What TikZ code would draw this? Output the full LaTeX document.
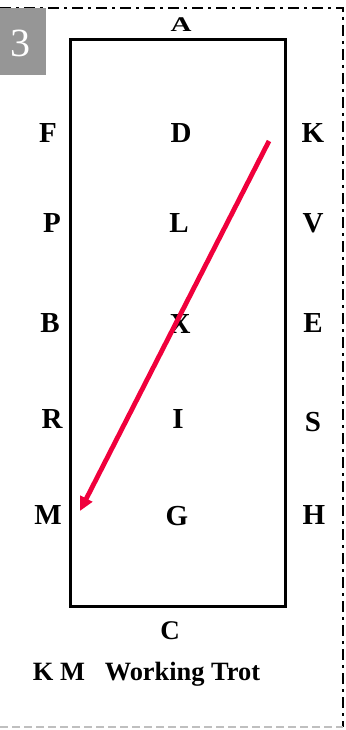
\documentclass[tikz,border=0pt]{standalone}
\usepackage{fontspec}
\setmainfont{Liberation Serif}
\usetikzlibrary{arrows.meta}
\definecolor{arrowred}{RGB}{240,0,60}
\definecolor{badgegray}{RGB}{150,150,150}
\tikzset{
  mark letter/.style={font=\bfseries\fontsize{29}{29}\selectfont, inner sep=0pt, anchor=base},
  arena/.style={draw=black, line width=3pt},
  frameline/.style={draw=black, line width=2.2pt, dash pattern=on 11pt off 5pt on 3pt off 5pt},
  movearrow/.style={draw=arrowred, line width=4.8pt, -{Triangle[length=14pt,width=13pt]}},
}
\begin{document}
\begin{tikzpicture}[x=1pt,y=-1pt]
\useasboundingbox (0,0) rectangle (345,730);
% frame
\draw[frameline] (0,8) -- (343,8) -- (343,727);
\draw[draw=black!25, line width=1.8pt, dash pattern=on 8pt off 4pt] (0,727) -- (343,727);
% badge
\fill[badgegray] (0,8) rectangle (46,75);
\node[text=white, font=\fontsize{40}{40}\selectfont, inner sep=0pt, anchor=base] (num) at (20,57) {3};
% arena
\draw[arena] (70,40) rectangle (285,606);
% letters
\node[mark letter] (A) at (181,31.7) {\scalebox{1}[0.72]{A}};
\node[mark letter] (F) at (48,143) {F};
\node[mark letter] (D) at (181,142.7) {D};
\node[mark letter] (K) at (313,143) {K};
\node[mark letter] (P) at (52,232) {P};
\node[mark letter] (L) at (179,232) {L};
\node[mark letter] (V) at (313,232) {V};
\node[mark letter] (B) at (50,332) {B};
\node[mark letter] (X) at (180,333) {X};
\node[mark letter] (E) at (313,332) {E};
\node[mark letter] (R) at (52,428) {R};
\node[mark letter] (I) at (178,428) {I};
\node[mark letter] (S) at (313,431) {S};
\node[mark letter] (M) at (48,524) {M};
\node[mark letter] (G) at (177,525) {G};
\node[mark letter] (H) at (314,524) {H};
\node[mark letter, font=\bfseries\fontsize{27}{27}\selectfont] (C) at (170,639) {C};
% caption
\node[font=\bfseries\fontsize{26.4}{26.4}\selectfont, inner sep=0pt, anchor=base] (caption) at (146.5,680.5) {K M\ \ \ Working Trot};
% movement
\coordinate (start) at (269,141);
\coordinate (end) at (80,511);
\draw[movearrow] (start) -- (end);
\end{tikzpicture}
\end{document}
